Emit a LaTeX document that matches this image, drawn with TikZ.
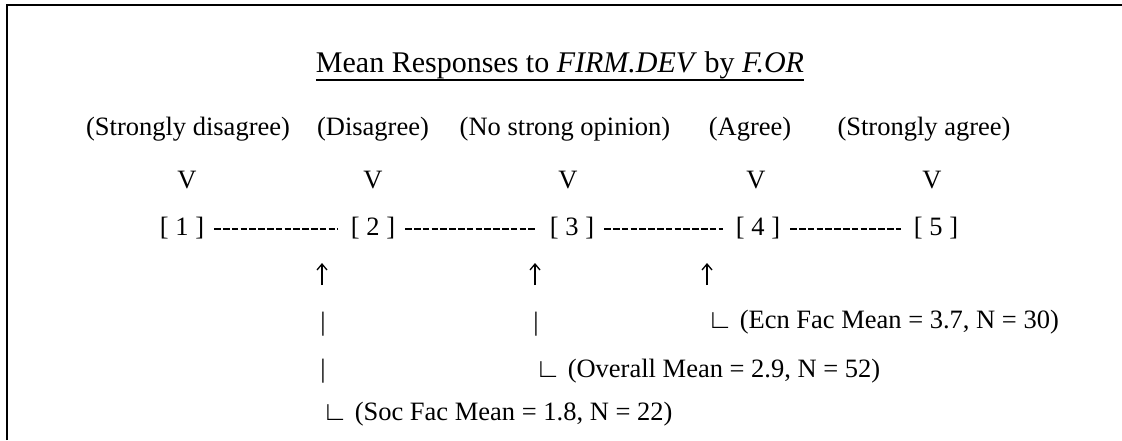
\documentclass[tikz,border=0pt]{standalone}
\usepackage{fontspec}
\setmainfont{Liberation Serif}
\usetikzlibrary{arrows.meta}
\begin{document}
\begin{tikzpicture}[x=1pt, y=1pt, font=\fontsize{26.5}{30}\selectfont,
	txt/.style={inner sep=0pt, anchor=base},
	note/.style={inner sep=0pt, anchor=base west},
	uparrow/.style={line width=1.3pt, -{Straight Barb[length=6pt, width=10pt]}},
	dashline/.style={line width=1.7pt, dash pattern=on 6.5pt off 2.3pt, shorten <=10pt, shorten >=13pt}]
	
	\useasboundingbox (0,0) rectangle (1122,-440);
	\draw[line width=2.5pt] (7,-440) -- (7,-5) -- (1122,-5);
	
	\node[txt, font=\fontsize{30}{34}\selectfont] (title) at (560,-72) {Mean Responses to \textit{FIRM.DEV} by \textit{F.OR}};
	\draw[line width=1.5pt] ([yshift=-8pt]title.base west) -- ([yshift=-8pt]title.base east);
	
	\node[txt] (l1) at (188,-135) {(Strongly disagree)};
	\node[txt] (l2) at (373,-135) {(Disagree)};
	\node[txt] (l3) at (565,-135) {(No strong opinion)};
	\node[txt] (l4) at (750,-135) {(Agree)};
	\node[txt] (l5) at (924,-135) {(Strongly agree)};
	
	\node[txt] (v1) at (187,-188) {V};
	\node[txt] (v2) at (373,-188) {V};
	\node[txt] (v3) at (568,-188) {V};
	\node[txt] (v4) at (756,-188) {V};
	\node[txt] (v5) at (932,-188) {V};
	
	\node[txt] (s1) at (182,-235) {[ 1 ]};
	\node[txt] (s2) at (373,-235) {[ 2 ]};
	\node[txt] (s3) at (572,-235) {[ 3 ]};
	\node[txt] (s4) at (758,-235) {[ 4 ]};
	\node[txt] (s5) at (936,-235) {[ 5 ]};
	
	\draw[dashline] ([yshift=6pt]s1.base east) -- ([yshift=6pt]s2.base west);
	\draw[dashline] ([yshift=6pt]s2.base east) -- ([yshift=6pt]s3.base west);
	\draw[dashline] ([yshift=6pt]s3.base east) -- ([yshift=6pt]s4.base west);
	\draw[dashline] ([yshift=6pt]s4.base east) -- ([yshift=6pt]s5.base west);
	
	\coordinate (a1) at (322,-285);
	\coordinate (a2) at (535,-285);
	\coordinate (a3) at (707,-285);
	\coordinate (t1) at (322,-263);
	\coordinate (t2) at (535,-263);
	\coordinate (t3) at (707,-263);
	\draw[uparrow] (a1) -- (t1);
	\draw[uparrow] (a2) -- (t2);
	\draw[uparrow] (a3) -- (t3);
	
	\node[txt] (b1) at (323,-330) {|};
	\node[txt] (b2) at (536,-330) {|};
	\node[txt] (b3) at (323,-377) {|};
	
	\node[note] (n3) at (707,-328) {∟ (Ecn Fac Mean = 3.7, N = 30)};
	\node[note] (n2) at (535,-377) {∟ (Overall Mean = 2.9, N = 52)};
	\node[note] (n1) at (322,-420) {∟ (Soc Fac Mean = 1.8, N = 22)};
	
\end{tikzpicture}
\end{document}
